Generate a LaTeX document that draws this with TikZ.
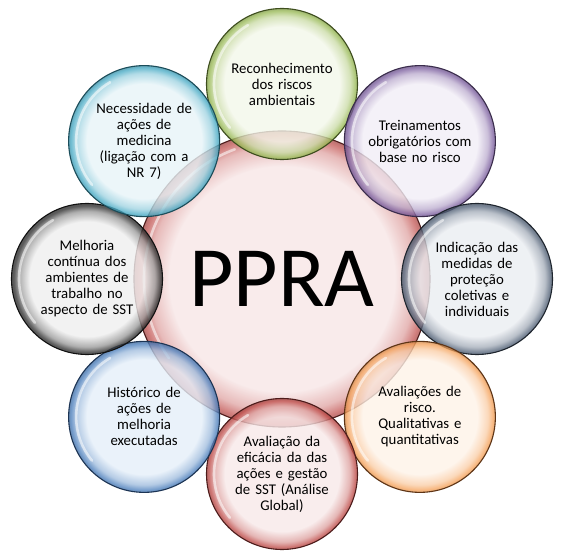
\documentclass[tikz,border=0pt]{standalone}
\usepackage{fontspec}
\setmainfont{Carlito}
\usetikzlibrary{calc}
\definecolor{gin}{HTML}{F3F7EA}\definecolor{gout}{HTML}{9BBB59}\definecolor{gline}{HTML}{3E4E1E}
\definecolor{pin}{HTML}{F1EDF6}\definecolor{pout}{HTML}{8064A2}\definecolor{pline}{HTML}{3A2C4C}
\definecolor{sin}{HTML}{EAEDF1}\definecolor{sout}{HTML}{56657A}\definecolor{sline}{HTML}{1E252E}
\definecolor{oin}{HTML}{FEF2E7}\definecolor{oout}{HTML}{F5A45E}\definecolor{oline}{HTML}{5E3415}
\definecolor{rin}{HTML}{F7E8E8}\definecolor{rout}{HTML}{C0504D}\definecolor{rline}{HTML}{4E1C1B}
\definecolor{bin}{HTML}{E5EFF9}\definecolor{bout}{HTML}{4F81BD}\definecolor{bline}{HTML}{1C3454}
\definecolor{kin}{HTML}{EFEFEF}\definecolor{kout}{HTML}{333333}\definecolor{kline}{HTML}{111111}
\definecolor{lin}{HTML}{E7F4F8}\definecolor{lout}{HTML}{4BACC6}\definecolor{lline}{HTML}{1B4D5A}
\definecolor{cin}{HTML}{F8E8E8}\definecolor{cout}{HTML}{C96866}\definecolor{cline}{HTML}{4E1C1B}
\newcommand{\mkglass}[3]{\pgfdeclareradialshading{#1}{\pgfpointorigin}{color(0bp)=(#2); color(19bp)=(#2); color(22.5bp)=(#3!45!#2); color(24.3bp)=(#3); color(25bp)=(#3!85!black); color(50bp)=(#3!85!black)}}
\mkglass{glassg}{gin}{gout}
\mkglass{glassp}{pin}{pout}
\mkglass{glasss}{sin}{sout}
\mkglass{glasso}{oin}{oout}
\mkglass{glassr}{rin}{rout}
\mkglass{glassb}{bin}{bout}
\mkglass{glassk}{kin}{kout}
\mkglass{glassl}{lin}{lout}
\mkglass{glassc}{cin}{cout}
\tikzset{
  sat/.style n args={2}{circle, minimum size=151pt, inner sep=0pt, text width=116pt, align=center,
    font=\fontsize{14.8}{16}\selectfont, draw=#2, line width=1.1pt, fill opacity=0.8, text opacity=1,
    shading=#1},
  hub/.style={circle, minimum size=296pt, inner sep=0pt, draw=cline, line width=1.1pt,
    fill opacity=0.85, text opacity=1, shading=glassc, font=\fontsize{86}{90}\selectfont},
  glint/.style={white, line width=2.6pt, opacity=0.55, line cap=round}
}
\begin{document}
\begin{tikzpicture}[x=1pt,y=1pt]
\useasboundingbox (0,0) rectangle (566,557);
\coordinate (O) at (282,278);
\node[hub] (ppra) at (O) {PPRA};
\draw[glint] ($(ppra.center)+(110:138)$) arc (110:215:138);
\node[sat={glassg}{gline}] (n1) at ($(O)+(90:195)$) {Reconhecimento\\dos riscos\\ambientais};
\node[sat={glassp}{pline}] (n2) at ($(O)+(45:195)$) {Treinamentos\\obrigatórios com\\base no risco};
\node[sat={glasss}{sline}] (n3) at ($(O)+(0:195)$) {Indicação das\\medidas de\\proteção\\coletivas e\\individuais};
\node[sat={glasso}{oline}] (n4) at ($(O)+(-45:195)$) {Avaliações de\\risco.\\Qualitativas e\\quantitativas};
\node[sat={glassr}{rline}] (n5) at ($(O)+(-90:195)$) {Avaliação da\\eficácia da das\\ações e gestão\\de SST (Análise\\Global)};
\node[sat={glassb}{bline}] (n6) at ($(O)+(-135:195)$) {Histórico de\\ações de\\melhoria\\executadas};
\node[sat={glassk}{kline}] (n7) at ($(O)+(180:195)$) {Melhoria\\contínua dos\\ambientes de\\trabalho no\\aspecto de SST};
\node[sat={glassl}{lline}] (n8) at ($(O)+(135:195)$) {Necessidade de\\ações de\\medicina\\(ligação com a\\NR 7)};
\foreach \n in {n1,n2,n3,n4,n5,n6,n7,n8}
  \draw[glint] ($(\n.center)+(120:68)$) arc (120:220:68);
\end{tikzpicture}
\end{document}
